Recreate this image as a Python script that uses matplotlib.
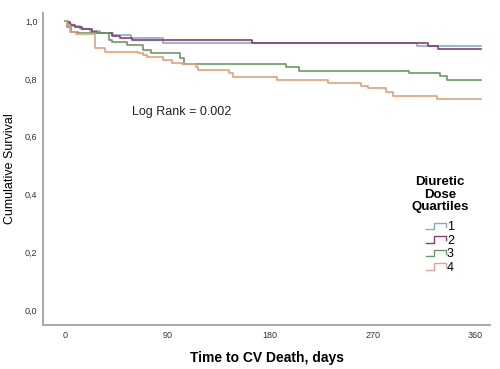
import matplotlib
matplotlib.use("Agg")
import matplotlib.pyplot as plt
from matplotlib.lines import Line2D
from matplotlib.legend_handler import HandlerBase

plt.rcParams['font.family'] = ['Liberation Sans', 'DejaVu Sans']

# Kaplan-Meier step points (day, survival)
q1_days = [0, 3, 6, 13, 22, 31, 42, 58, 86, 309, 365]
q1_surv = [1.0, 0.99, 0.983, 0.972, 0.965, 0.958, 0.953, 0.942, 0.924, 0.913, 0.913]

q2_days = [0, 2, 4, 9, 15, 24, 28, 41, 48, 59, 164, 318, 327, 365]
q2_surv = [1.0, 0.996, 0.986, 0.980, 0.971, 0.963, 0.958, 0.948, 0.943, 0.933, 0.924, 0.913, 0.903, 0.903]

q3_days = [0, 2, 5, 11, 39, 41, 54, 68, 75, 101, 104, 194, 205, 302, 329, 335, 365]
q3_surv = [1.0, 0.98, 0.963, 0.958, 0.934, 0.926, 0.917, 0.900, 0.888, 0.872, 0.853, 0.842, 0.828, 0.819, 0.810, 0.796, 0.796]

q4_days = [0, 2, 4, 10, 26, 35, 64, 68, 72, 86, 94, 103, 115, 117, 144, 147, 186, 231, 260, 266, 282, 288, 326, 365]
q4_surv = [1.0, 0.986, 0.963, 0.954, 0.906, 0.894, 0.888, 0.882, 0.875, 0.865, 0.856, 0.850, 0.842, 0.829, 0.819, 0.807, 0.796, 0.787, 0.775, 0.767, 0.755, 0.740, 0.730, 0.730]

labels = ["1", "2", "3", "4"]
colors = ["#86aacb", "#8c3d6c", "#6b9c62", "#e1a27a"]
legend_colors = ["#86aacb", "#8c3d6c", "#6b9c62", "#e2a0a8"]


class StepHandler(HandlerBase):
    def create_artists(self, legend, orig_handle, xdescent, ydescent,
                       width, height, fontsize, trans):
        x0, y0 = -xdescent, -ydescent
        xs = [x0, x0 + 0.4 * width, x0 + 0.4 * width, x0 + width, x0 + width]
        ys = [y0 + 0.15 * height, y0 + 0.15 * height, y0 + 0.85 * height,
              y0 + 0.85 * height, y0 + 0.4 * height]
        ln = Line2D(xs, ys, color=orig_handle.get_color(), lw=1.0, transform=trans)
        return [ln]


fig = plt.figure(figsize=(5, 3.69), dpi=100)
ax = fig.add_axes([0.086, 0.1192, 0.894, 0.8456])

for d, s, c in zip([q1_days, q2_days, q3_days, q4_days],
                   [q1_surv, q2_surv, q3_surv, q4_surv], colors):
    ax.step(d, s, where='post', color=c, lw=1.2)

ax.set_xlim(-19.3, 372.8)
ax.set_ylim(-0.052, 1.028)
ax.set_xticks([0, 90, 180, 270, 360])
ax.set_yticks([0.0, 0.2, 0.4, 0.6, 0.8, 1.0])
ax.set_yticklabels(["0,0", "0,2", "0,4", "0,6", "0,8", "1,0"])
ax.tick_params(length=0, labelsize=6.5, colors="#333333", pad=4)

for side in ['top', 'right']:
    ax.spines[side].set_visible(False)
for side in ['left', 'bottom']:
    ax.spines[side].set_color("#a8a8a8")
    ax.spines[side].set_linewidth(1.4)

ax.set_ylabel("Cumulative Survival", fontsize=9)
ax.yaxis.set_label_coords(-0.061, 0.5)
ax.set_xlabel("Time to CV Death, days", fontsize=10, fontweight='bold')
ax.xaxis.set_label_coords(0.5, -0.083)

ax.text(102, 0.687, "Log Rank = 0.002", fontsize=9, ha='center', va='center', color="#222222")

# legend title drawn separately so the gap above the entries can match
ax.text(0.888, 0.417, "Diuretic\nDose\nQuartiles", transform=ax.transAxes,
        fontsize=9.5, fontweight='bold', ha='center', va='center',
        multialignment='center', linespacing=1.05)

handles = [Line2D([], [], color=c) for c in legend_colors]
leg = ax.legend(handles, labels,
                handler_map={Line2D: StepHandler()},
                loc='center', bbox_to_anchor=(0.888, 0.248), frameon=False,
                fontsize=9, handlelength=1.6, handletextpad=0.1,
                labelspacing=0.12, borderpad=0)

fig.savefig("out.png", dpi=100)
